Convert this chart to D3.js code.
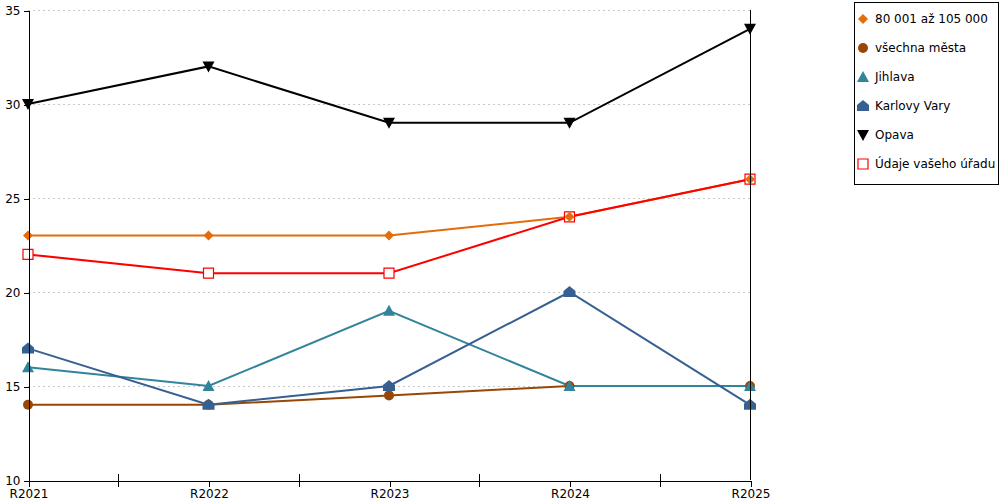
<!DOCTYPE html>
<html>
<head>
<meta charset="utf-8">
<script src="https://cdn.jsdelivr.net/npm/d3@7"></script>
<style>
  body { margin: 0; background: #fff; }
  text { font-family: "DejaVu Sans", Verdana, sans-serif; font-size: 12px; fill: #000; }
</style>
</head>
<body>
<div id="paper"></div>
<script>
const years = ["R2021", "R2022", "R2023", "R2024", "R2025"];
const yTicks = [10, 15, 20, 25, 30, 35];

const names = ["80 001 až 105 000", "všechna města", "Jihlava", "Karlovy Vary", "Opava", "Údaje vašeho úřadu"];
const pop80to105 = [23, 23, 23, 24, 26];
const allCities = [14, 14, 14.5, 15, 15];
const jihlava = [16, 15, 19, 15, 15];
const karlovyVary = [17, 14, 15, 20, 14];
const opava = [30, 32, 29, 29, 34];
const yourOffice = [22, 21, 21, 24, 26];

const colors = ["#e46c0a", "#974806", "#31849b", "#376092", "#000000", "#ff0000"];
const shapes = ["diamond", "circle", "triangle", "house", "down", "square"];

const series = [pop80to105, allCities, jihlava, karlovyVary, opava, yourOffice]
  .map((vals, i) => ({ name: names[i], values: vals, color: colors[i], shape: shapes[i] }));

const x = d3.scalePoint().domain(years).range([28, 750]);
const y = d3.scaleLinear().domain([10, 35]).range([480, 10]);

const svg = d3.select("#paper")
  .append("svg")
  .attr("width", 1000)
  .attr("height", 500);

// marker shapes
function markerPath(shape) {
  switch (shape) {
    case "diamond": return "M0,-5L5,0L0,5L-5,0Z";
    case "circle": return "M5,0A5,5 0 1,1 -5,0A5,5 0 1,1 5,0Z";
    case "triangle": return "M0,-6L6,5L-6,5Z";
    case "house": return "M0,-6L6,-1L6,5L-6,5L-6,-1Z";
    case "down": return "M-6,-5L6,-5L0,6Z";
    case "square": return "M-5,-5L5,-5L5,5L-5,5Z";
  }
}
function drawMarker(g, shape, color) {
  const p = g.append("path").attr("d", markerPath(shape));
  if (shape === "square") p.attr("fill", "#fff").attr("stroke", color).attr("stroke-width", 1.2);
  else p.attr("fill", color);
}

// grid
svg.append("g")
  .selectAll("line")
  .data(yTicks.filter(d => d > 10))
  .join("line")
  .attr("x1", 28).attr("x2", 750)
  .attr("y1", d => y(d) + 0.5).attr("y2", d => y(d) + 0.5)
  .attr("stroke", "#c8c8c8")
  .attr("stroke-dasharray", "2,3");

// lines
const line = d3.line().x((d, i) => x(years[i])).y(d => y(d));
svg.append("g")
  .selectAll("path")
  .data(series)
  .join("path")
  .attr("d", d => line(d.values))
  .attr("fill", "none")
  .attr("stroke", d => d.color)
  .attr("stroke-width", 2);

// markers: your office first, others above
const order = [5, 0, 1, 2, 3, 4];
order.forEach(k => {
  const s = series[k];
  s.values.forEach((v, i) => {
    const g = svg.append("g").attr("transform", `translate(${x(years[i])},${y(v)})`);
    drawMarker(g, s.shape, s.color);
  });
});

// y axis
svg.append("g")
  .attr("transform", "translate(28.5,0.5)")
  .call(d3.axisLeft(y).tickValues(yTicks).tickSize(5).tickPadding(3).tickSizeOuter(0))
  .call(g => g.selectAll("line,path").attr("stroke", "#000").attr("shape-rendering", "crispEdges"))
  .call(g => g.selectAll("text").style("font-family", "DejaVu Sans").style("font-size", "12px"));

// right border
svg.append("line")
  .attr("x1", 750.5).attr("x2", 750.5).attr("y1", 10).attr("y2", 480)
  .attr("stroke", "#000")
  .attr("shape-rendering", "crispEdges");

// x axis
svg.append("g")
  .attr("transform", "translate(0.5,480.5)")
  .call(d3.axisBottom(x).tickSize(6).tickSizeOuter(0).tickPadding(3))
  .call(g => g.selectAll("line,path").attr("stroke", "#000").attr("shape-rendering", "crispEdges"))
  .call(g => g.selectAll("text").style("font-family", "DejaVu Sans").style("font-size", "12px"));

// minor ticks between categories
const step = x.step();
svg.append("g")
  .selectAll("line")
  .data(years.slice(1))
  .join("line")
  .attr("x1", d => x(d) - step / 2 + 0.5).attr("x2", d => x(d) - step / 2 + 0.5)
  .attr("y1", 474).attr("y2", 487)
  .attr("stroke", "#000")
  .attr("shape-rendering", "crispEdges");

// legend
const legend = svg.append("g");
legend.append("rect")
  .attr("x", 854.5).attr("y", 2.5)
  .attr("width", 144).attr("height", 182)
  .attr("fill", "#fff").attr("stroke", "#000");

series.forEach((s, i) => {
  const cy = 19 + i * 29;
  const g = legend.append("g").attr("transform", `translate(863,${cy})`);
  drawMarker(g, s.shape, s.color);
  legend.append("text")
    .attr("x", 875).attr("y", cy)
    .attr("dy", "0.35em")
    .text(s.name);
});
</script>
</body>
</html>
